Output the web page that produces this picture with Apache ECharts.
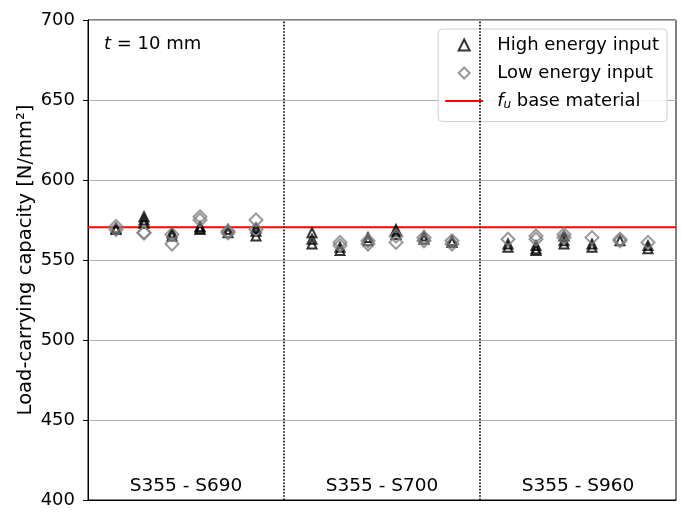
<!DOCTYPE html>
<html>
<head>
<meta charset="utf-8">
<script src="https://cdn.jsdelivr.net/npm/echarts@6/dist/echarts.min.js"></script>
<style>
  html, body { margin: 0; padding: 0; background: #fff; }
  #main { width: 682px; height: 512px; }
</style>
</head>
<body>
<div id="main"></div>
<script>
var sections = ['S355 - S690', 'S355 - S700', 'S355 - S960'];
var dividers = [1, 2];
var fuBase = 570.5;

// one entry per specimen group, each holding the tested values
var highS690 = [[569, 570], [573, 575, 577], [565, 567], [569, 570, 571], [567, 569], [565, 568, 570]];
var lowS690 = [[569, 571], [567, 567], [560, 566], [575, 577], [567, 568], [569, 575]];
var highS700 = [[560, 563, 567], [556, 558], [562, 564], [566, 568, 569], [563, 565], [561, 562]];
var lowS700 = [[], [559, 561], [560, 562], [561, 565], [562, 564], [560, 562]];
var highS960 = [[558, 560], [556, 557, 559], [560, 562, 565], [558, 560], [562], [557, 559]];
var lowS960 = [[563], [563, 565], [564, 566], [564], [562, 563], [561]];

var yTicks = [400, 450, 500, 550, 600, 650, 700];

function points(groupsBySection) {
    var out = [];
    for (var s = 0; s < groupsBySection.length; s++) {
        var groups = groupsBySection[s];
        for (var g = 0; g < groups.length; g++) {
            for (var k = 0; k < groups[g].length; k++) {
                // groups sit at 1/7 ... 6/7 of each section
                out.push([s + (g + 1) / 7, groups[g][k]]);
            }
        }
    }
    return out;
}

var font = 'DejaVu Sans';
var triPath = 'path://M0,0L1,2L-1,2Z';
var diaPath = 'path://M0,0L1,1L0,2L-1,1Z';

var option = {
    animation: false,
    textStyle: { fontFamily: font },
    grid: {
        left: 88, right: 6, top: 20, bottom: 12,
        show: true, borderColor: '#000', borderWidth: 1
    },
    legend: {
        orient: 'vertical',
        right: 15, top: 29,
        itemWidth: 38, itemHeight: 11, itemGap: 10,
        symbolKeepAspect: true,
        padding: [7, 8, 11, 7],
        backgroundColor: 'rgba(255,255,255,0.85)',
        borderColor: '#d0d0d0', borderWidth: 1, borderRadius: 4,
        textStyle: {
            fontFamily: font, fontSize: 18, color: '#000', padding: [0, 0, 0, 9],
            rich: {
                i: { fontFamily: font, fontSize: 18, fontStyle: 'italic', color: '#000' },
                s: { fontFamily: font, fontSize: 12, fontStyle: 'italic', color: '#000', verticalAlign: 'bottom', padding: [7, 0, 0, 0] }
            }
        },
        formatter: function (name) {
            if (name === 'fu') return '{i|f}{s|u} base material';
            return name;
        },
        data: [
            { name: 'High energy input', icon: triPath },
            { name: 'Low energy input', icon: diaPath },
            { name: 'fu', icon: 'path://M0,0H38V2H0Z' }
        ]
    },
    xAxis: {
        type: 'value', min: 0, max: 3,
        axisLine: { show: true, lineStyle: { color: '#000', width: 1 } },
        axisTick: { show: false },
        splitLine: { show: false },
        axisLabel: {
            inside: true, margin: 4,
            customValues: [0.5, 1.5, 2.5],
            fontFamily: font, fontSize: 18.5, color: '#000',
            formatter: function (v) { return sections[Math.floor(v)]; }
        }
    },
    yAxis: {
        type: 'value', min: yTicks[0], max: yTicks[yTicks.length - 1], interval: 50,
        name: 'Load-carrying capacity [N/mm²]',
        nameLocation: 'middle', nameGap: 52, nameMoveOverlap: false,
        nameTextStyle: { fontFamily: font, fontSize: 19.5, color: '#000' },
        axisLine: { show: true, lineStyle: { color: '#000', width: 1 } },
        axisTick: { show: true, length: 5, lineStyle: { color: '#000' } },
        axisLabel: { fontFamily: font, fontSize: 18, color: '#000', margin: 13 },
        splitLine: { show: true, lineStyle: { color: '#b0b0b0', width: 1 } }
    },
    graphic: [{
        type: 'text', left: 104, top: 35,
        style: {
            text: '{i|t} = 10 mm',
            font: '18px "DejaVu Sans"', fill: '#000',
            rich: { i: { fontStyle: 'italic', fontFamily: font, fontSize: 18, fill: '#000' } }
        }
    }],
    series: [
        {
            name: 'fu', type: 'line',
            data: [[0, fuBase], [3, fuBase]],
            symbol: 'none', z: 1,
            lineStyle: { color: '#ff0000', width: 2 },
            itemStyle: { color: '#ff0000' },
            markLine: {
                silent: true, symbol: 'none',
                label: { show: false },
                lineStyle: { color: '#000', type: 'dotted', width: 1.6 },
                data: dividers.map(function (d) { return { xAxis: d }; })
            }
        },
        {
            name: 'High energy input', type: 'scatter',
            data: points([highS690, highS700, highS960]),
            symbol: 'triangle', symbolSize: 9, z: 3,
            itemStyle: { color: 'rgba(0,0,0,0)', borderColor: '#000', borderWidth: 2 }
        },
        {
            name: 'Low energy input', type: 'scatter',
            data: points([lowS690, lowS700, lowS960]),
            symbol: 'diamond', symbolSize: 13, z: 4,
            itemStyle: { color: 'rgba(0,0,0,0)', borderColor: '#808080', borderWidth: 2 }
        }
    ]
};

var chart = echarts.init(document.getElementById('main'));
chart.setOption(option);
</script>
</body>
</html>
